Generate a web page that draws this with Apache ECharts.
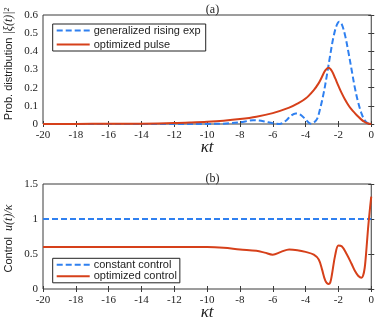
<!DOCTYPE html>
<html>
<head>
<meta charset="utf-8">
<script src="https://cdn.jsdelivr.net/npm/echarts@6/dist/echarts.min.js"></script>
<style>
  html, body { margin: 0; padding: 0; background: #fff; }
  #chart { width: 377px; height: 322px; }
</style>
</head>
<body>
<div id="chart"></div>
<script>
// (a) pulse shapes |xi(t)|^2
const tGen = [-20, -12, -10, -9, -8.5, -8, -7.5, -7.2, -6.9, -6.5, -6, -5.6, -5.2, -4.9, -4.6, -4.3, -4, -3.7, -3.5, -3.3, -3.1, -2.9, -2.7, -2.5, -2.3, -2.1, -1.95, -1.8, -1.6, -1.4, -1.2, -1, -0.8, -0.6, -0.4, -0.2, 0];
const pulseGen = [0, 0, 0.0005, 0.002, 0.005, 0.01, 0.017, 0.021, 0.02, 0.014, 0.004, 0, 0.018, 0.045, 0.058, 0.05, 0.025, 0.002, 0.008, 0.028, 0.09, 0.17, 0.27, 0.38, 0.48, 0.545, 0.563, 0.55, 0.49, 0.4, 0.3, 0.2, 0.12, 0.06, 0.02, 0.003, 0];
const tOpt = [-20, -18, -16, -14, -12, -11, -10, -9, -8, -7, -6, -5, -4.5, -4, -3.5, -3.2, -3, -2.8, -2.6, -2.4, -2.2, -2, -1.8, -1.6, -1.4, -1.2, -1, -0.8, -0.6, -0.4, -0.2, 0];
const pulseOpt = [0.0003, 0.0006, 0.001, 0.002, 0.005, 0.008, 0.012, 0.018, 0.027, 0.04, 0.06, 0.09, 0.112, 0.14, 0.187, 0.225, 0.26, 0.295, 0.31, 0.292, 0.252, 0.21, 0.17, 0.135, 0.105, 0.08, 0.06, 0.041, 0.024, 0.011, 0.003, 0];

// (b) control u(t)/kappa
const tConst = [-20, 0];
const ctrlConst = [1, 1];
const tCtrl = [-20, -12, -10, -9, -8, -7, -6.5, -6, -5.5, -5, -4.5, -4, -3.5, -3.2, -3, -2.8, -2.6, -2.5, -2.4, -2.2, -2, -1.8, -1.5, -1.2, -1, -0.8, -0.6, -0.5, -0.4, -0.3, -0.2, -0.1, 0];
const ctrlOpt = [0.6, 0.6, 0.6, 0.59, 0.565, 0.545, 0.52, 0.49, 0.53, 0.565, 0.555, 0.53, 0.49, 0.42, 0.28, 0.12, 0.07, 0.09, 0.2, 0.48, 0.62, 0.61, 0.5, 0.36, 0.26, 0.19, 0.16, 0.19, 0.3, 0.55, 0.85, 1.1, 1.32];

const xMin = -20, xMax = 0, xStep = 2;

const BLUE = '#2f80f0';
const RED = '#d6401a';
const AX = '#3a3a3a';
const SERIF = 'Liberation Serif';
const SANS = 'Liberation Sans';

function pairs(xs, ys) { return ys.map((v, i) => [xs[i], v]); }

function xAx(gi, pos, labels) {
  return {
    type: 'value', gridIndex: gi, position: pos, min: xMin, max: xMax, interval: xStep,
    axisLine: { show: false },
    axisTick: { show: true, inside: true, length: 3, lineStyle: { color: AX } },
    axisLabel: { show: labels, margin: 6, color: '#222', fontFamily: SERIF, fontSize: 11 },
    splitLine: { show: false },
    name: labels ? 'κt' : '', nameLocation: 'middle', nameGap: 15,
    nameMoveOverlap: false,
    nameTextStyle: { fontFamily: SERIF, fontStyle: 'italic', fontSize: 17, color: '#222', verticalAlign: 'top' }
  };
}
function yAx(gi, pos, max, step, labels) {
  return {
    type: 'value', gridIndex: gi, position: pos, min: 0, max: max, interval: step,
    axisLine: { show: false },
    axisTick: { show: true, inside: true, length: 3, lineStyle: { color: AX } },
    axisLabel: { show: labels, margin: 5, color: '#222', fontFamily: SERIF, fontSize: 11 },
    splitLine: { show: false }
  };
}

const chart = echarts.init(document.getElementById('chart'));
chart.setOption({
  animation: false,
  title: [
    { text: '(a)', left: 207.5, top: -1, textAlign: 'center',
      textStyle: { fontFamily: SERIF, fontSize: 12, fontWeight: 'normal', color: '#222' } },
    { text: '(b)', left: 207.5, top: 168, textAlign: 'center',
      textStyle: { fontFamily: SERIF, fontSize: 12, fontWeight: 'normal', color: '#222' } }
  ],
  grid: [
    { left: 43, right: 5, top: 15, height: 109, show: true, borderColor: AX, borderWidth: 1, backgroundColor: 'transparent' },
    { left: 43, right: 5, top: 184, height: 108.7, show: true, borderColor: AX, borderWidth: 1, backgroundColor: 'transparent' }
  ],
  xAxis: [xAx(0, 'bottom', true), xAx(0, 'top', false), xAx(1, 'bottom', true), xAx(1, 'top', false)],
  yAxis: [yAx(0, 'left', 0.6, 0.1, true), yAx(0, 'right', 0.6, 0.1, false), yAx(1, 'left', 1.5, 0.5, true), yAx(1, 'right', 1.5, 0.5, false)],
  legend: [
    { data: ['generalized rising exp', 'optimized pulse'], orient: 'vertical', left: 52.7, top: 24,
      itemWidth: 33, itemHeight: 11, itemGap: 3, itemStyle: { opacity: 0 }, padding: [1, 5, 1, 3],
      backgroundColor: '#fff', borderColor: '#222', borderWidth: 1,
      textStyle: { fontFamily: SANS, fontSize: 11, color: '#222', padding: [0, 0, 0, -1] } },
    { data: ['constant control', 'optimized control'], orient: 'vertical', left: 52.7, top: 258.3,
      itemWidth: 33, itemHeight: 11, itemGap: 0.5, itemStyle: { opacity: 0 }, padding: [1, 3, 1, 3],
      backgroundColor: '#fff', borderColor: '#222', borderWidth: 1,
      textStyle: { fontFamily: SANS, fontSize: 11, color: '#222', padding: [0, 0, 0, -1] } }
  ],
  graphic: [
    { type: 'text', x: 9, y: 64, rotation: Math.PI / 2,
      style: { text: '{a|Prob. distribution }{m||ξ(t)|²}', align: 'center', verticalAlign: 'middle',
        rich: { a: { fontFamily: SANS, fontSize: 11, fill: '#222' },
                m: { fontFamily: SERIF, fontStyle: 'italic', fontSize: 12, fill: '#222' } } } },
    { type: 'text', x: 9, y: 238.5, rotation: Math.PI / 2,
      style: { text: '{a|Control  }{m|u(t)/κ}', align: 'center', verticalAlign: 'middle',
        rich: { a: { fontFamily: SANS, fontSize: 11, fill: '#222' },
                m: { fontFamily: SERIF, fontStyle: 'italic', fontSize: 12, fill: '#222' } } } }
  ],
  series: [
    { name: 'generalized rising exp', type: 'line', xAxisIndex: 0, yAxisIndex: 0, data: pairs(tGen, pulseGen),
      showSymbol: false, symbol: 'none', smooth: 0.35, color: BLUE, lineStyle: { color: BLUE, width: 2, type: [6, 3] }, z: 3 },
    { name: 'optimized pulse', type: 'line', xAxisIndex: 0, yAxisIndex: 0, data: pairs(tOpt, pulseOpt),
      showSymbol: false, symbol: 'none', smooth: 0.35, color: RED, lineStyle: { color: RED, width: 2 }, z: 4 },
    { name: 'constant control', type: 'line', xAxisIndex: 2, yAxisIndex: 2, data: pairs(tConst, ctrlConst),
      showSymbol: false, symbol: 'none', color: BLUE, lineStyle: { color: BLUE, width: 2, type: [6, 3] }, z: 3 },
    { name: 'optimized control', type: 'line', xAxisIndex: 2, yAxisIndex: 2, data: pairs(tCtrl, ctrlOpt),
      showSymbol: false, symbol: 'none', smooth: 0.35, color: RED, lineStyle: { color: RED, width: 2 }, z: 4 }
  ]
});
</script>
</body>
</html>
